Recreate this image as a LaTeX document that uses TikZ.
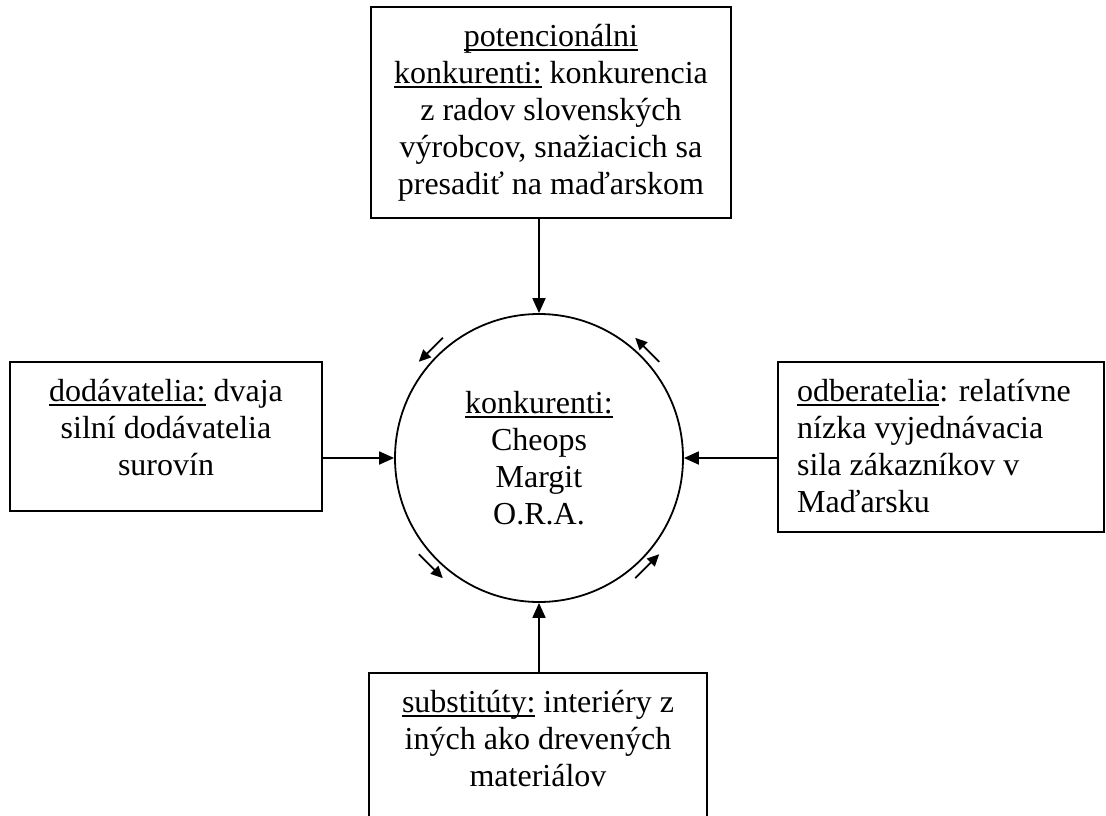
\documentclass[tikz,border=0pt]{standalone}
\usepackage{fontspec}
\setmainfont{Liberation Serif}
\usetikzlibrary{arrows.meta}
\newcommand\myul[1]{\setbox0\hbox{#1}\rlap{\rule[-5pt]{\wd0}{1.8pt}}\box0\relax}
\newcommand\topstrut{\rule{0pt}{26pt}}
\begin{document}
\begin{tikzpicture}[x=1pt,y=-1pt,
  box/.style={draw, line width=1.8pt, inner sep=0pt},
  txt/.style={font=\fontsize{32}{37}\selectfont, inner sep=0pt, anchor=north, align=center},
  arr/.style={line width=1.8pt, -{Triangle[length=15pt,width=13pt]}},
  sarr/.style={line width=1.8pt, -{Triangle[length=12pt,width=11pt]}}]
\useasboundingbox (0,0) rectangle (1106,816);
\clip (0,0) rectangle (1106,816);
% boxes
\node[box, minimum width=360pt, minimum height=211pt] (tb) at (551,112.5) {};
\node[box, minimum width=312pt, minimum height=149pt] (lb) at (166,436.5) {};
\node[box, minimum width=326pt, minimum height=170pt] (rb) at (941,447) {};
\node[box, minimum width=338pt, minimum height=200pt] (bb) at (538,773) {};
\node[draw, circle, line width=1.8pt, inner sep=0pt, minimum size=288pt] (c) at (539,458) {};
% texts
\node[txt] (tbt) at (551,20) {\topstrut\myul{potencionálni}\\\myul{konkurenti:} konkurencia\\z radov slovenských\\výrobcov, snažiacich sa\\presadiť na maďarskom};
\node[txt] (lbt) at (166,375) {\topstrut\myul{dodávatelia:} dvaja\\silní dodávatelia\\surovín};
\node[txt, anchor=north west, align=left] (rbt) at (797,375) {\topstrut\myul{odberatelia}: relatívne\\nízka vyjednávacia\\sila zákazníkov v\\Maďarsku};
\node[txt] (bbt) at (538,686) {\topstrut\myul{substitúty:} interiéry z\\iných ako drevených\\materiálov};
\node[txt] (ct) at (539,387) {\topstrut\myul{konkurenti:}\\Cheops\\Margit\\O.R.A.};
% connectors
\draw[arr] (c.north |- tb.south) -- (c.north);
\draw[arr] (lb.east |- c.west) -- (c.west);
\draw[arr] (rb.west |- c.east) -- (c.east);
\draw[arr] (c.south |- bb.north) -- (c.south);
% rivalry arrows
\coordinate (ula) at (442.8,337.8); \coordinate (ulb) at (418.8,361.8);
\coordinate (ura) at (659.2,361.8); \coordinate (urb) at (635.2,337.8);
\coordinate (lla) at (418.8,554.2); \coordinate (llb) at (442.8,578.2);
\coordinate (lra) at (635.2,578.2); \coordinate (lrb) at (659.2,554.2);
\draw[sarr] (ula) -- (ulb);
\draw[sarr] (ura) -- (urb);
\draw[sarr] (lla) -- (llb);
\draw[sarr] (lra) -- (lrb);
\end{tikzpicture}
\end{document}
